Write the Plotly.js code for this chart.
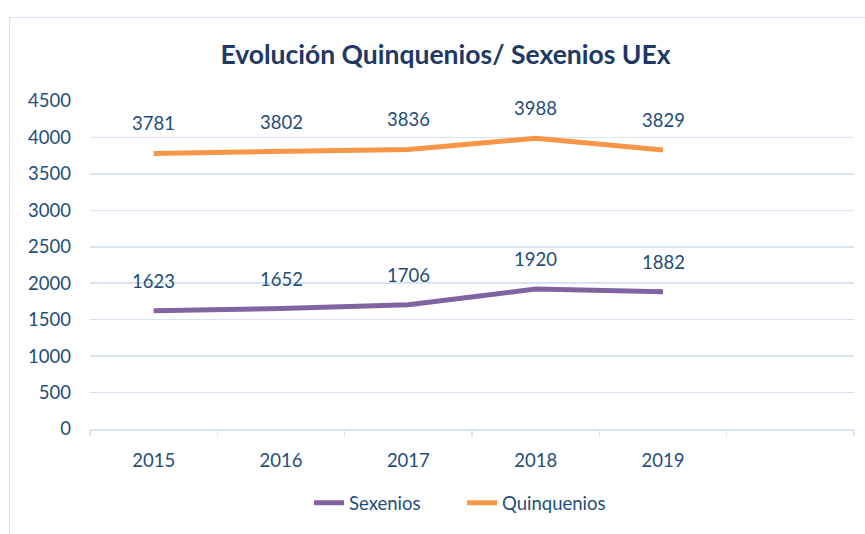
<!DOCTYPE html>
<html>
<head>
<meta charset="utf-8">
<script src="https://cdn.plot.ly/plotly-3.0.1.min.js"></script>
<style>
html,body{margin:0;padding:0;background:#fff;}
#wrap{position:relative;width:865px;height:534px;overflow:hidden;}
#chart{width:865px;height:534px;}
#frame{position:absolute;left:9px;top:17px;width:900px;height:600px;border:1.5px solid #d9e3f3;pointer-events:none;}
</style>
</head>
<body>
<div id="wrap"><div id="chart"></div><div id="frame"></div></div>
<script>
const years = ['2015','2016','2017','2018','2019'];
const sexenios = [1623, 1652, 1706, 1920, 1882];
const quinquenios = [3781, 3802, 3836, 3988, 3829];
const yTicks = [0,500,1000,1500,2000,2500,3000,3500,4000,4500];

const idx = years.map((_, i) => i);
const textColor = '#1f4e79';
const font = 'Lato, "Open Sans", sans-serif';
const fs = 18.5;

const traces = [
  {x: idx, y: sexenios, name: 'Sexenios', type: 'scatter', mode: 'lines',
   line: {color: '#8064a2', width: 5}, hoverinfo: 'y'},
  {x: idx, y: quinquenios, name: 'Quinquenios', type: 'scatter', mode: 'lines',
   line: {color: '#f79646', width: 5}, hoverinfo: 'y'},
  {x: [0], y: [0], xaxis: 'x2', type: 'scatter', mode: 'markers',
   marker: {opacity: 0}, showlegend: false, hoverinfo: 'skip'}
];

const annotations = [];
[sexenios, quinquenios].forEach(s => {
  s.forEach((v, i) => annotations.push({
    x: idx[i], y: v, xref: 'x', yref: 'y', text: String(v), showarrow: false,
    yshift: 30, font: {family: font, size: fs, color: textColor}
  }));
});

const layout = {
  width: 865, height: 534,
  margin: {l: 90, r: 11, t: 101, b: 105},
  paper_bgcolor: '#ffffff', plot_bgcolor: '#ffffff',
  font: {family: font, size: fs, color: textColor},
  title: {text: '<b>Evolución Quinquenios/ Sexenios UEx</b>', x: 0.515, xanchor: 'center', y: 0.897, yanchor: 'middle',
          font: {family: font, size: 26.5, color: '#203864'}},
  xaxis: {range: [-0.5, 5.5], tickvals: idx, ticktext: years, showgrid: false, zeroline: false,
          showline: true, linecolor: '#d9e3f3', linewidth: 1.5, ticks: '', ticklabelstandoff: 14,
          tickfont: {family: font, size: fs, color: textColor}, fixedrange: true},
  xaxis2: {overlaying: 'x', range: [-0.5, 5.5], tickvals: [-0.5,0.5,1.5,2.5,3.5,4.5,5.5], showticklabels: false,
           ticks: 'outside', ticklen: 6, tickcolor: '#d9e3f3', tickwidth: 1.5, showgrid: false, zeroline: false,
           anchor: 'y', side: 'bottom'},
  yaxis: {range: [0, 4500], tickvals: yTicks, showgrid: true, gridcolor: '#d9e3f3', gridwidth: 1.5,
          zeroline: false, showline: false, ticks: '', ticklabelstandoff: 18,
          tickfont: {family: font, size: fs, color: textColor}, fixedrange: true},
  legend: {orientation: 'h', x: 0.487, xanchor: 'center', y: -0.226, yanchor: 'middle',
           font: {family: font, size: fs, color: textColor}, itemwidth: 30, entrywidth: 108, entrywidthmode: 'pixels'},
  annotations: annotations,
  showlegend: true
};

Plotly.newPlot('chart', traces, layout, {displayModeBar: false, staticPlot: true});
</script>
</body>
</html>
